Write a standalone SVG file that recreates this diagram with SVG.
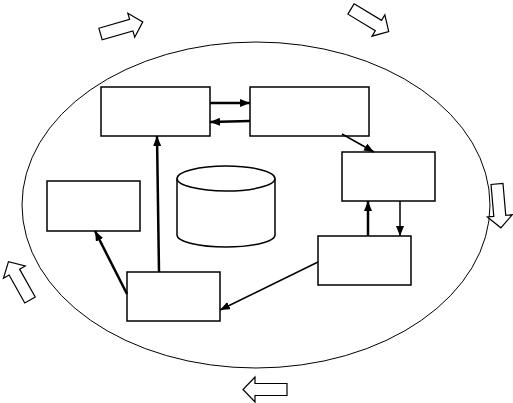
<svg xmlns="http://www.w3.org/2000/svg" width="513" height="403" viewBox="0 0 513 403">
<style>
.box{fill:#fff;stroke:#000;stroke-width:1.5}
.blk{fill:#fff;stroke:#000;stroke-width:1.2;stroke-linejoin:miter}
.c{fill:none;stroke:#000;stroke-width:1.5}
.ct{fill:none;stroke:#000;stroke-width:2.5}
</style>
<defs>
<marker id="ah" viewBox="0 0 10 8" refX="10" refY="4" markerWidth="10" markerHeight="8" markerUnits="userSpaceOnUse" orient="auto">
<path d="M0,0 L10,4 L0,8 Z" fill="#000"/>
</marker>
<polygon id="blockArrow" points="0,-6 32,-6 32,-12.5 44,0 32,12.5 32,6 0,6"/>
</defs>
<rect width="513" height="403" fill="#fff"/>
<g id="cycle">
<ellipse cx="256" cy="205" rx="234" ry="163" fill="none" stroke="#000" stroke-width="1"/>
</g>
<g id="flow-arrows">
<use href="#blockArrow" class="blk" transform="translate(100.5,34) rotate(-16)"/>
<use href="#blockArrow" class="blk" transform="translate(351,9) rotate(31)"/>
<use href="#blockArrow" class="blk" transform="translate(497,184) rotate(85)"/>
<use href="#blockArrow" class="blk" transform="translate(30,300) rotate(-119.3)"/>
<use href="#blockArrow" class="blk" transform="translate(287,389.5) rotate(180)"/>
</g>
<g id="node1"><rect class="box" x="101" y="87" width="109" height="49"/></g>
<g id="node2"><rect class="box" x="250" y="87" width="119" height="49"/></g>
<g id="node3"><rect class="box" x="342" y="152" width="93" height="49"/></g>
<g id="node4"><rect class="box" x="318" y="236" width="93" height="49"/></g>
<g id="node5"><rect class="box" x="47" y="181" width="93" height="50"/></g>
<g id="node6"><rect class="box" x="127" y="272" width="93" height="49"/></g>
<g id="database">
<path d="M177,178.5 L177,235 A49,12 0 0 0 275,235 L275,178.5" fill="#fff" stroke="#000" stroke-width="1.5"/>
<ellipse cx="226" cy="178.5" rx="49" ry="12.5" fill="#fff" stroke="#000" stroke-width="1.5"/>
</g>
<g id="connectors">
<line class="ct" x1="210" y1="103" x2="250" y2="103" marker-end="url(#ah)"/>
<line class="ct" x1="250" y1="121" x2="210" y2="122" marker-end="url(#ah)"/>
<line class="c" x1="342" y1="134" x2="374" y2="152" marker-end="url(#ah)"/>
<line class="ct" x1="368" y1="236" x2="368" y2="201" marker-end="url(#ah)"/>
<line class="c" x1="400" y1="201" x2="400" y2="236" marker-end="url(#ah)"/>
<line class="ct" x1="159" y1="272" x2="157" y2="136" marker-end="url(#ah)"/>
<line class="ct" x1="127" y1="294" x2="95" y2="231" marker-end="url(#ah)"/>
<line class="c" x1="318" y1="262" x2="220" y2="310" marker-end="url(#ah)"/>
</g>
</svg>
